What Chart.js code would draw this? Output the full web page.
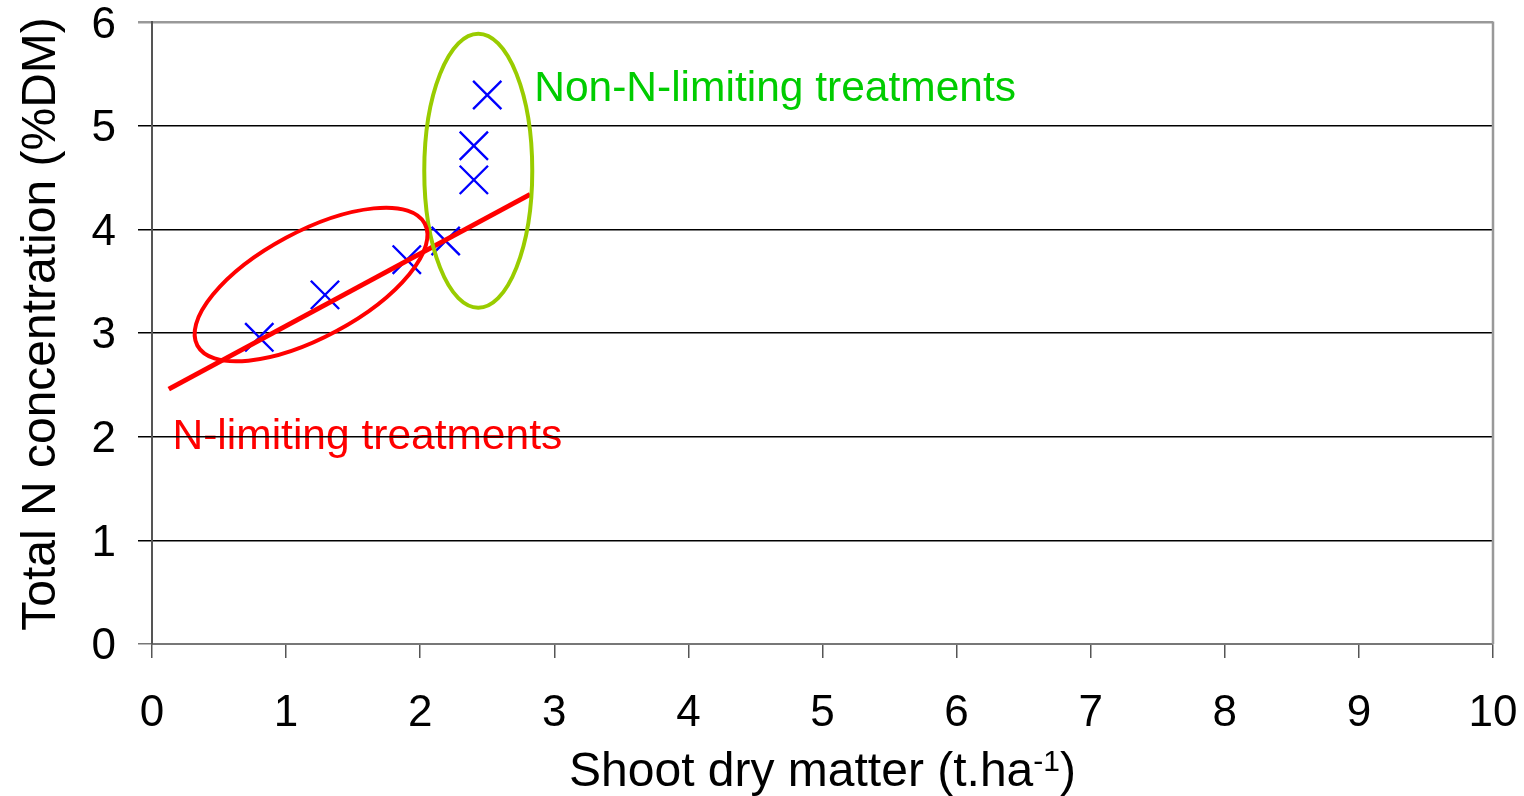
<!DOCTYPE html>
<html>
<head>
<meta charset="utf-8">
<script src="https://cdn.jsdelivr.net/npm/chart.js@4/dist/chart.umd.min.js"></script>
<style>
  html, body { margin: 0; padding: 0; background: #ffffff; }
  #wrap { width: 1524px; height: 796px; }
</style>
</head>
<body>
<div id="wrap"><canvas id="c" width="1524" height="796"></canvas></div>
<script>
// ---- data ----
const shootDM = [0.80, 1.29, 1.90, 2.19, 2.40, 2.40, 2.50];   // t/ha
const totalN  = [2.96, 3.37, 3.71, 3.89, 4.48, 4.81, 5.30];   // %DM
const fitX = [0.125, 2.82];
const fitY = [2.46, 4.34];
const xTickValues = [0,1,2,3,4,5,6,7,8,9,10];
const yTickValues = [0,1,2,3,4,5,6];
const xTitle = 'Shoot dry matter (t.ha';
const xTitleSup = '-1';
const xTitleEnd = ')';
const yTitle = 'Total N concentration (%DM)';
const labelNonLimiting = 'Non-N-limiting treatments';
const labelLimiting = 'N-limiting treatments';

const FONT = '"Liberation Sans", Arial, Helvetica, sans-serif';

const scatterPts = shootDM.map((x, i) => ({ x: x, y: totalN[i] }));
const fitPts = fitX.map((x, i) => ({ x: x, y: fitY[i] }));

// annotations (anchors in data coordinates)
const ellipses = [
  { cx: 2.433, cy: 4.568, rx: 54, ry: 137, rot: 0, color: '#99CC00', width: 4 },
  { cx: 1.186, cy: 3.47, rx: 129, ry: 53, rot: -28.2, color: '#FF0000', width: 4 }
];
const texts = [
  { text: labelNonLimiting, x: 2.85, y: 5.24, color: '#00CC00', layer: 'top' },
  { text: labelLimiting, x: 0.153, y: 1.887, color: '#FF0000', layer: 'under' }
];

function drawTexts(chart, layer) {
  const ctx = chart.ctx, xs = chart.scales.x, ys = chart.scales.y;
  ctx.save();
  ctx.font = '42.5px ' + FONT;
  ctx.textAlign = 'left';
  ctx.textBaseline = 'alphabetic';
  texts.filter(t => t.layer === layer).forEach(t => {
    ctx.fillStyle = t.color;
    ctx.fillText(t.text, xs.getPixelForValue(t.x), ys.getPixelForValue(t.y));
  });
  ctx.restore();
}

const decorPlugin = {
  id: 'decor',
  beforeDraw(chart) {
    drawTexts(chart, 'under');
  },
  afterDatasetsDraw(chart) {
    const ctx = chart.ctx, xs = chart.scales.x, ys = chart.scales.y;
    ctx.save();
    ellipses.forEach(e => {
      ctx.beginPath();
      ctx.ellipse(xs.getPixelForValue(e.cx), ys.getPixelForValue(e.cy), e.rx, e.ry,
                  e.rot * Math.PI / 180, 0, Math.PI * 2);
      ctx.strokeStyle = e.color;
      ctx.lineWidth = e.width;
      ctx.stroke();
    });
    ctx.restore();
    drawTexts(chart, 'top');
  },
  afterDraw(chart) {
    const ctx = chart.ctx, a = chart.chartArea;
    ctx.save();
    // right border
    ctx.strokeStyle = '#999999';
    ctx.lineWidth = 2.5;
    ctx.beginPath();
    ctx.moveTo(a.right, a.top - 1);
    ctx.lineTo(a.right, a.bottom);
    ctx.stroke();
    // x title with superscript
    ctx.fillStyle = '#000';
    ctx.textBaseline = 'alphabetic';
    ctx.textAlign = 'left';
    const mainFont = '48px ' + FONT, supFont = '30px ' + FONT;
    ctx.font = mainFont; const w1 = ctx.measureText(xTitle).width; const w3 = ctx.measureText(xTitleEnd).width;
    ctx.font = supFont; const w2 = ctx.measureText(xTitleSup).width;
    const total = w1 + w2 + w3;
    let x0 = (a.left + a.right) / 2 - total / 2;
    const base = 786;
    ctx.font = mainFont; ctx.fillText(xTitle, x0, base);
    ctx.font = supFont; ctx.fillText(xTitleSup, x0 + w1, base - 15);
    ctx.font = mainFont; ctx.fillText(xTitleEnd, x0 + w1 + w2, base);
    // y title
    ctx.save();
    ctx.translate(55, 324);
    ctx.rotate(-Math.PI / 2);
    ctx.textAlign = 'center';
    ctx.font = mainFont;
    ctx.fillText(yTitle, 0, 0);
    ctx.restore();
    ctx.restore();
  }
};

new Chart(document.getElementById('c'), {
  type: 'scatter',
  data: {
    datasets: [
      {
        label: 'Total N',
        data: scatterPts,
        pointStyle: 'crossRot',
        pointRadius: 20,
        pointHoverRadius: 20,
        pointBorderWidth: 2.4,
        pointHoverBorderWidth: 2.4,
        borderColor: '#0000FF',
        backgroundColor: '#0000FF',
        showLine: false,
        order: 2
      },
      {
        label: 'Fit',
        data: fitPts,
        showLine: true,
        borderColor: '#FF0000',
        borderWidth: 5,
        pointRadius: 0,
        pointHoverRadius: 0,
        fill: false,
        order: 1
      }
    ]
  },
  options: {
    responsive: false,
    animation: false,
    devicePixelRatio: 1,
    layout: { padding: { top: 22, right: 31, left: 0, bottom: 0 } },
    plugins: {
      legend: { display: false },
      tooltip: { enabled: false },
      title: { display: false }
    },
    scales: {
      x: {
        type: 'linear',
        min: 0, max: 10,
        afterBuildTicks(scale) { scale.ticks = xTickValues.map(v => ({ value: v })); },
        afterFit(scale) { scale.height = 152; },
        border: { display: true, color: '#777777', width: 2 },
        grid: {
          drawOnChartArea: false,
          drawTicks: true,
          tickLength: 14,
          color: '#555555',
          lineWidth: 1.5
        },
        ticks: {
          color: '#000',
          padding: 6,
          maxRotation: 0,
          autoSkip: false,
          font: { family: FONT, size: 44, lineHeight: '100px' }
        },
        title: { display: false }
      },
      y: {
        type: 'linear',
        min: 0, max: 6,
        afterBuildTicks(scale) { scale.ticks = yTickValues.map(v => ({ value: v })); },
        afterFit(scale) { scale.width = 152; },
        border: { display: true, color: '#555555', width: 2 },
        grid: {
          drawTicks: true,
          tickLength: 14,
          color: (ctx) => {
            const v = ctx.tick ? ctx.tick.value : null;
            if (v === 6) return '#999999';
            if (v === 0) return '#777777';
            return '#000000';
          },
          lineWidth: (ctx) => {
            const v = ctx.tick ? ctx.tick.value : null;
            return (v === 6) ? 2.5 : 1.5;
          }
        },
        ticks: {
          color: '#000',
          padding: 22,
          labelOffset: 3,
          autoSkip: false,
          font: { family: FONT, size: 44, lineHeight: '0.1px' }
        },
        title: { display: false }
      }
    }
  },
  plugins: [decorPlugin]
});
</script>
</body>
</html>
